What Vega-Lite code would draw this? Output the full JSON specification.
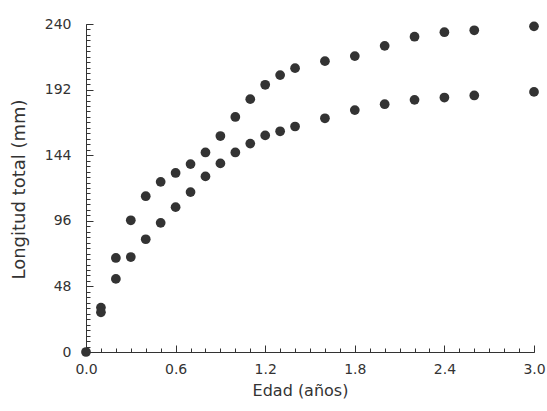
{
  "$schema": "https://vega.github.io/schema/vega-lite/v6.json",
  "width": 448,
  "height": 328,
  "autosize": {"type": "none"},
  "padding": {"left": 86, "top": 24, "right": 13, "bottom": 59},
  "background": "white",
  "config": {
    "view": {"stroke": null},
    "axis": {"tickColor": "#333", "domainColor": "#333"}
  },
  "data": {
    "values": [
      {"edad": 0.0, "longitud": 0, "sexo": "Machos"},
      {"edad": 0.1, "longitud": 32.5, "sexo": "Machos"},
      {"edad": 0.2, "longitud": 53.5, "sexo": "Machos"},
      {"edad": 0.3, "longitud": 69.5, "sexo": "Machos"},
      {"edad": 0.4, "longitud": 82.5, "sexo": "Machos"},
      {"edad": 0.5, "longitud": 94.5, "sexo": "Machos"},
      {"edad": 0.6, "longitud": 106, "sexo": "Machos"},
      {"edad": 0.7, "longitud": 117, "sexo": "Machos"},
      {"edad": 0.8, "longitud": 128.5, "sexo": "Machos"},
      {"edad": 0.9, "longitud": 138, "sexo": "Machos"},
      {"edad": 1.0, "longitud": 146, "sexo": "Machos"},
      {"edad": 1.1, "longitud": 152.5, "sexo": "Machos"},
      {"edad": 1.2, "longitud": 158.5, "sexo": "Machos"},
      {"edad": 1.3, "longitud": 161.5, "sexo": "Machos"},
      {"edad": 1.4, "longitud": 165, "sexo": "Machos"},
      {"edad": 1.6, "longitud": 171, "sexo": "Machos"},
      {"edad": 1.8, "longitud": 177, "sexo": "Machos"},
      {"edad": 2.0, "longitud": 181.3, "sexo": "Machos"},
      {"edad": 2.2, "longitud": 184.5, "sexo": "Machos"},
      {"edad": 2.4, "longitud": 186.2, "sexo": "Machos"},
      {"edad": 2.6, "longitud": 187.7, "sexo": "Machos"},
      {"edad": 3.0, "longitud": 190.3, "sexo": "Machos"},
      {"edad": 0.1, "longitud": 29, "sexo": "Hembras"},
      {"edad": 0.2, "longitud": 68.8, "sexo": "Hembras"},
      {"edad": 0.3, "longitud": 96.4, "sexo": "Hembras"},
      {"edad": 0.4, "longitud": 114, "sexo": "Hembras"},
      {"edad": 0.5, "longitud": 124.5, "sexo": "Hembras"},
      {"edad": 0.6, "longitud": 131, "sexo": "Hembras"},
      {"edad": 0.7, "longitud": 137.5, "sexo": "Hembras"},
      {"edad": 0.8, "longitud": 146, "sexo": "Hembras"},
      {"edad": 0.9, "longitud": 158, "sexo": "Hembras"},
      {"edad": 1.0, "longitud": 172, "sexo": "Hembras"},
      {"edad": 1.1, "longitud": 185, "sexo": "Hembras"},
      {"edad": 1.2, "longitud": 195.5, "sexo": "Hembras"},
      {"edad": 1.3, "longitud": 202.6, "sexo": "Hembras"},
      {"edad": 1.4, "longitud": 207.7, "sexo": "Hembras"},
      {"edad": 1.6, "longitud": 212.8, "sexo": "Hembras"},
      {"edad": 1.8, "longitud": 216.5, "sexo": "Hembras"},
      {"edad": 2.0, "longitud": 224, "sexo": "Hembras"},
      {"edad": 2.2, "longitud": 230.7, "sexo": "Hembras"},
      {"edad": 2.4, "longitud": 234, "sexo": "Hembras"},
      {"edad": 2.6, "longitud": 235.4, "sexo": "Hembras"},
      {"edad": 3.0, "longitud": 238.3, "sexo": "Hembras"}
    ]
  },
  "resolve": {"axis": {"x": "independent", "y": "independent"}},
  "layer": [
    {
      "mark": {"type": "point", "opacity": 0},
      "encoding": {
        "x": {"field": "edad", "type": "quantitative", "scale": {"domain": [0, 3], "nice": false, "zero": false},
          "axis": {"orient": "bottom", "offset": -4, "values": [0,0.1,0.2,0.3,0.4,0.5,0.6,0.7,0.8,0.9,1.0,1.1,1.2,1.3,1.4,1.5,1.6,1.7,1.8,1.9,2.0,2.1,2.2,2.3,2.4,2.5,2.6,2.7,2.8,2.9,3.0], "labels": false, "domain": false, "grid": false, "tickSize": 4, "title": null}},
        "y": {"field": "longitud", "type": "quantitative", "scale": {"domain": [0, 240], "nice": false}, "axis": null}
      }
    },
    {
      "mark": {"type": "point", "opacity": 0},
      "encoding": {
        "x": {"field": "edad", "type": "quantitative",
          "axis": {"orient": "bottom", "offset": -7, "values": [0, 0.6, 1.2, 1.8, 2.4, 3.0], "labels": false, "domain": false, "grid": false, "tickSize": 7, "title": null}},
        "y": {"field": "longitud", "type": "quantitative", "axis": null}
      }
    },
    {
      "mark": {"type": "point", "opacity": 0},
      "encoding": {
        "x": {"field": "edad", "type": "quantitative", "axis": null},
        "y": {"field": "longitud", "type": "quantitative",
          "axis": {"orient": "left", "offset": -4, "values": [0,4,8,12,16,20,24,28,32,36,40,44,48,52,56,60,64,68,72,76,80,84,88,92,96,100,104,108,112,116,120,124,128,132,136,140,144,148,152,156,160,164,168,172,176,180,184,188,192,196,200,204,208,212,216,220,224,228,232,236,240], "labels": false, "domain": false, "grid": false, "tickSize": 4, "title": null}}
      }
    },
    {
      "mark": {"type": "point", "opacity": 0},
      "encoding": {
        "x": {"field": "edad", "type": "quantitative", "axis": null},
        "y": {"field": "longitud", "type": "quantitative",
          "axis": {"orient": "left", "offset": -7, "values": [0, 48, 96, 144, 192, 240], "labels": false, "domain": false, "grid": false, "tickSize": 7, "title": null}}
      }
    },
    {
      "mark": {"type": "point", "filled": true, "color": "#333", "size": 95, "opacity": 1},
      "encoding": {
        "x": {"field": "edad", "type": "quantitative",
          "axis": {"orient": "bottom", "grid": false, "values": [0, 0.6, 1.2, 1.8, 2.4, 3.0], "format": ".1f", "ticks": false, "labelPadding": 10, "labelFont": "DejaVu Sans", "labelFontSize": 14, "labelColor": "#333", "labelFlush": false, "domainWidth": 1,
            "title": "Edad (años)", "titleFont": "DejaVu Sans", "titleColor": "#333", "titleFontSize": 16, "titleFontWeight": "normal", "titleX": 214, "titleY": 30, "titleBaseline": "top"}},
        "y": {"field": "longitud", "type": "quantitative",
          "axis": {"orient": "left", "grid": false, "values": [0, 48, 96, 144, 192, 240], "ticks": false, "labelPadding": 15, "labelFont": "DejaVu Sans", "labelFontSize": 14, "labelColor": "#333", "labelFlush": false, "domainWidth": 1,
            "title": "Longitud total (mm)", "titleFont": "DejaVu Sans", "titleColor": "#333", "titleFontSize": 18, "titleFontWeight": "normal", "titleX": -58, "titleY": 165, "titleAngle": -90, "titleBaseline": "bottom"}}
      }
    }
  ]
}
